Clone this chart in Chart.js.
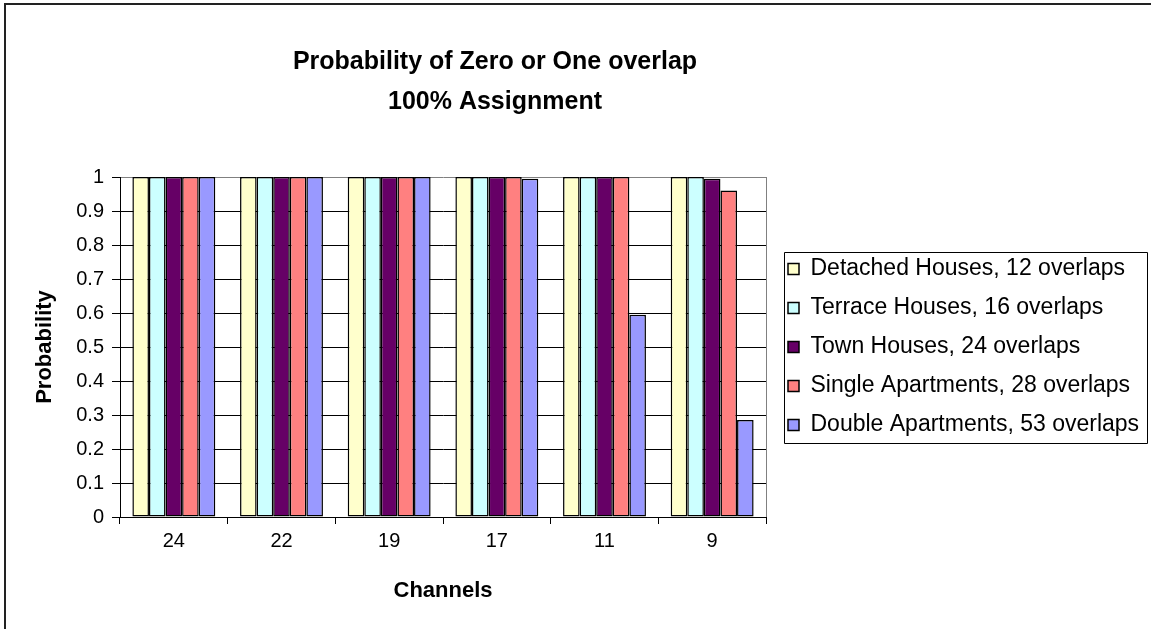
<!DOCTYPE html>
<html>
<head>
<meta charset="utf-8">
<title>Probability of Zero or One overlap</title>
<script src="https://cdn.jsdelivr.net/npm/chart.js@4.4.0/dist/chart.umd.min.js"></script>
<style>
  html, body { margin: 0; padding: 0; background: #fff; }
</style>
</head>
<body>
<canvas id="chartBar" width="1151" height="629"></canvas>
<script>
// values
const channels = ["24", "22", "19", "17", "11", "9"];
const detachedHouses = [1, 1, 1, 1, 1, 1];
const terraceHouses = [1, 1, 1, 1, 1, 1];
const townHouses = [1, 1, 1, 1, 1, 0.995];
const singleApartments = [1, 1, 1, 1, 1, 0.96];
const doubleApartments = [1, 1, 1, 0.995, 0.595, 0.285];
const titleLines = ["Probability of Zero or One overlap", "100% Assignment"];

Chart.defaults.font.family = "Arial, 'Liberation Sans', sans-serif";
Chart.defaults.color = "#000";

function makeSet(label, values, color) {
  return {
    label: label,
    data: values,
    backgroundColor: color,
    borderColor: "#000",
    borderWidth: 1.5,
    borderSkipped: false,
    categoryPercentage: 0.77,
    barPercentage: 1.0
  };
}

// legend gets a fixed width so the plot ends where it does in the picture
const legendSize = {
  id: "legendSize",
  beforeInit: function (chart) {
    var fit = chart.legend.fit;
    chart.legend.fit = function () {
      fit.bind(chart.legend)();
      this.width = 385;
    };
  },
  afterLayout: function (chart) {
    chart.legend.left += 6;
    chart.legend.right += 6;
  }
};

// frame, plot border, title and legend box
const decor = {
  id: "decor",
  beforeDraw: function (chart) {
    var ctx = chart.ctx;
    ctx.save();
    ctx.fillStyle = "#fff";
    ctx.fillRect(0, 0, chart.width, chart.height);
    ctx.strokeStyle = "#222";
    ctx.lineWidth = 2;
    ctx.strokeRect(5, 4, chart.width + 20, chart.height + 20);
    ctx.restore();
  },
  afterDraw: function (chart) {
    var ctx = chart.ctx;
    var area = chart.chartArea;
    ctx.save();
    ctx.strokeStyle = "#808080";
    ctx.lineWidth = 1;
    ctx.beginPath();
    ctx.moveTo(Math.round(area.right) + 0.5, area.top);
    ctx.lineTo(Math.round(area.right) + 0.5, area.bottom);
    ctx.stroke();

    ctx.fillStyle = "#000";
    ctx.font = "bold 25px Arial, 'Liberation Sans', sans-serif";
    ctx.textAlign = "center";
    ctx.textBaseline = "middle";
    ctx.fillText(titleLines[0], 495, 62);
    ctx.fillText(titleLines[1], 495, 102);

    var hb = chart.legend.legendHitBoxes;
    if (hb && hb.length) {
      var top = hb[0].top - 6;
      var bottom = hb[hb.length - 1].top + hb[hb.length - 1].height + 6;
      var left = area.right + 18;
      ctx.strokeStyle = "#000";
      ctx.beginPath();
      ctx.rect(Math.round(left) + 0.5, Math.round(top) + 0.5, 1147 - Math.round(left), Math.round(bottom - top));
      ctx.stroke();
    }
    ctx.restore();
  }
};

const configBarChart = {
  type: "bar",
  data: {
    labels: channels,
    datasets: [
      makeSet("Detached Houses, 12 overlaps", detachedHouses, "#FFFFCC"),
      makeSet("Terrace Houses, 16 overlaps", terraceHouses, "#CCFFFF"),
      makeSet("Town Houses, 24 overlaps", townHouses, "#660066"),
      makeSet("Single Apartments, 28 overlaps", singleApartments, "#FF8080"),
      makeSet("Double Apartments, 53 overlaps", doubleApartments, "#9999FF")
    ]
  },
  options: {
    responsive: false,
    animation: false,
    devicePixelRatio: 1,
    layout: { padding: { top: 177, left: 6, right: 0, bottom: 0 } },
    plugins: {
      title: { display: false },
      tooltip: { enabled: false },
      legend: {
        position: "right",
        fullSize: false,
        labels: {
          boxWidth: 11,
          boxHeight: 11,
          padding: 16,
          color: "#000",
          font: { size: 23 }
        }
      }
    },
    scales: {
      x: {
        grid: {
          display: true,
          drawOnChartArea: false,
          drawTicks: true,
          tickLength: 7,
          tickColor: "#000",
          offset: true
        },
        border: { display: true, color: "#000" },
        ticks: { font: { size: 20 }, padding: 5 },
        title: {
          display: true,
          text: "Channels",
          font: { size: 22, weight: "bold" },
          padding: { top: 4, bottom: 25 }
        },
        afterFit: function (scale) { scale.height = 112; }
      },
      y: {
        min: 0,
        max: 1,
        ticks: {
          stepSize: 0.1,
          font: { size: 20 },
          padding: 8,
          callback: function (value) { return String(Math.round(value * 10) / 10); }
        },
        grid: {
          color: function (c) { return c.tick && c.tick.value === 1 ? "#808080" : "#000"; },
          tickColor: "#000",
          tickLength: 8
        },
        border: { display: true, color: "#000" },
        title: {
          display: true,
          text: "Probability",
          font: { size: 22, weight: "bold" },
          padding: { top: 26, bottom: 0 }
        },
        afterFit: function (scale) { scale.width = 114; }
      }
    }
  },
  plugins: [legendSize, decor]
};

var chartBar = new Chart(document.getElementById("chartBar"), configBarChart);
</script>
</body>
</html>
